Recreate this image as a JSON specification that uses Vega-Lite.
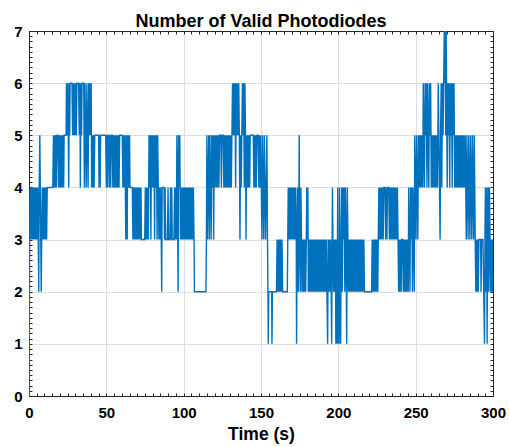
{
"$schema": "https://vega.github.io/schema/vega-lite/v6.json",
"width": 464, "height": 365,
"autosize": {"type": "none"},
"padding": {"left": 29, "top": 31, "right": 16, "bottom": 51},
"background": "white",
"config": {"view": {"stroke": null}},
"title": {"text": "Number of Valid Photodiodes", "font": "Liberation Sans", "fontSize": 18, "fontWeight": "bold", "color": "#000", "anchor": "middle", "frame": "group", "baseline": "alphabetic", "offset": -21},
"data": {"values": [
{"t":0,"n":0},{"t":0.4,"n":3},{"t":0.8,"n":4},{"t":1.2,"n":3},{"t":1.6,"n":4},{"t":2.0,"n":3},{"t":2.4,"n":4},{"t":2.8,"n":3},{"t":3.2,"n":4},{"t":3.6,"n":3},{"t":4.0,"n":4},{"t":4.4,"n":3},{"t":4.8,"n":4},{"t":5.2,"n":3},{"t":5.6,"n":4},{"t":6.0,"n":3},{"t":6.3,"n":2},{"t":6.6,"n":4},{"t":7.0,"n":5},{"t":7.3,"n":4},{"t":7.6,"n":3},{"t":7.9,"n":2},{"t":8.2,"n":3},{"t":8.6,"n":4},{"t":9.0,"n":3},{"t":9.4,"n":4},{"t":9.8,"n":3},{"t":10.2,"n":4},{"t":10.6,"n":3},{"t":11.0,"n":4},{"t":11.4,"n":3},{"t":11.8,"n":4},
{"t":15.4,"n":4},{"t":15.8,"n":5},{"t":16.2,"n":4},{"t":16.6,"n":5},{"t":17.0,"n":4},{"t":17.4,"n":5},{"t":17.8,"n":4},{"t":18.2,"n":5},{"t":18.8,"n":5},{"t":19.2,"n":4},{"t":19.6,"n":5},{"t":20.0,"n":4},{"t":20.4,"n":5},{"t":20.8,"n":4},{"t":21.2,"n":5},{"t":21.6,"n":4},{"t":22.0,"n":5},{"t":22.4,"n":4},{"t":22.7,"n":5},
{"t":24.0,"n":5},{"t":24.2,"n":6},{"t":24.6,"n":5},{"t":25.0,"n":6},{"t":25.4,"n":5},{"t":25.7,"n":4},{"t":26.0,"n":6},{"t":26.3,"n":5},{"t":26.6,"n":6},{"t":27.8,"n":6},{"t":28.2,"n":5},{"t":28.6,"n":6},{"t":29.0,"n":5},{"t":29.4,"n":6},{"t":29.8,"n":5},{"t":30.2,"n":6},{"t":30.6,"n":5},{"t":31.0,"n":6},{"t":32.1,"n":6},{"t":32.5,"n":5},{"t":32.9,"n":6},{"t":33.2,"n":4},{"t":33.6,"n":6},{"t":34.0,"n":5},{"t":34.3,"n":6},{"t":35.4,"n":6},{"t":35.8,"n":4},{"t":36.2,"n":6},{"t":36.6,"n":5},{"t":37.0,"n":4},{"t":37.4,"n":6},{"t":37.8,"n":5},{"t":38.2,"n":4},{"t":38.6,"n":6},{"t":39.0,"n":5},{"t":39.4,"n":6},{"t":39.8,"n":5},{"t":40.2,"n":6},{"t":40.5,"n":4},{"t":40.9,"n":5},{"t":41.3,"n":4},{"t":41.7,"n":5},{"t":42.1,"n":4},{"t":42.5,"n":5},
{"t":45.0,"n":5},{"t":45.3,"n":4},{"t":45.7,"n":5},{"t":46.0,"n":4},{"t":46.3,"n":5},{"t":49.6,"n":5},{"t":50.0,"n":4},{"t":50.4,"n":5},{"t":50.8,"n":4},{"t":51.1,"n":5},{"t":51.6,"n":5},{"t":52.0,"n":4},{"t":52.4,"n":5},{"t":52.8,"n":4},{"t":53.2,"n":5},{"t":53.8,"n":5},{"t":54.2,"n":4},{"t":54.6,"n":5},{"t":55.0,"n":4},{"t":55.4,"n":5},{"t":55.8,"n":4},{"t":56.2,"n":5},{"t":56.6,"n":4},{"t":57.0,"n":5},{"t":57.4,"n":4},{"t":57.8,"n":5},{"t":58.2,"n":4},{"t":58.6,"n":5},{"t":60.3,"n":5},{"t":60.7,"n":4},{"t":61.1,"n":5},{"t":61.5,"n":4},{"t":61.9,"n":5},{"t":62.3,"n":4},{"t":62.6,"n":3},{"t":62.9,"n":5},{"t":63.2,"n":4},{"t":63.5,"n":3},{"t":63.8,"n":5},{"t":64.1,"n":4},{"t":64.4,"n":5},{"t":64.7,"n":4},{"t":65.0,"n":5},{"t":65.3,"n":4},
{"t":66.8,"n":4},{"t":67.2,"n":3},{"t":67.6,"n":4},{"t":68.0,"n":3},{"t":68.4,"n":4},{"t":68.8,"n":3},{"t":69.2,"n":4},{"t":69.6,"n":3},{"t":70.0,"n":4},{"t":70.4,"n":3},{"t":70.8,"n":4},{"t":71.2,"n":3},{"t":71.6,"n":4},{"t":72.0,"n":3},{"t":72.4,"n":4},{"t":72.7,"n":3},
{"t":74.8,"n":3},{"t":75.2,"n":4},{"t":75.6,"n":3},{"t":76.0,"n":4},{"t":76.4,"n":3},{"t":76.8,"n":4},{"t":77.2,"n":3},{"t":77.6,"n":5},{"t":78.0,"n":4},{"t":78.4,"n":5},{"t":78.8,"n":3},{"t":79.2,"n":5},{"t":79.6,"n":4},{"t":80.0,"n":5},{"t":80.4,"n":4},{"t":80.8,"n":5},{"t":81.2,"n":3},{"t":81.6,"n":5},{"t":82.0,"n":4},{"t":82.4,"n":5},{"t":82.8,"n":3},{"t":83.2,"n":5},{"t":83.6,"n":4},{"t":84.0,"n":3},{"t":84.4,"n":4},{"t":84.8,"n":3},{"t":85.1,"n":4},{"t":85.5,"n":3},{"t":85.8,"n":2},{"t":86.1,"n":4},
{"t":87.3,"n":4},{"t":87.6,"n":3},{"t":88.0,"n":4},{"t":88.4,"n":3},{"t":89.5,"n":3},{"t":89.9,"n":4},{"t":90.2,"n":3},{"t":91.1,"n":3},{"t":91.5,"n":4},{"t":91.9,"n":3},{"t":92.3,"n":4},{"t":92.6,"n":3},
{"t":93.7,"n":3},{"t":94.1,"n":4},{"t":94.5,"n":3},{"t":94.9,"n":4},{"t":95.3,"n":3},{"t":95.6,"n":5},{"t":96.0,"n":4},{"t":96.4,"n":2},{"t":96.7,"n":5},{"t":97.1,"n":4},{"t":97.5,"n":5},{"t":97.9,"n":3},{"t":98.3,"n":4},{"t":98.7,"n":3},{"t":99.1,"n":4},{"t":99.5,"n":3},{"t":99.9,"n":4},{"t":100.3,"n":3},{"t":100.7,"n":4},{"t":101.1,"n":3},{"t":101.5,"n":4},{"t":101.9,"n":3},{"t":102.3,"n":4},{"t":102.7,"n":3},{"t":103.1,"n":4},{"t":103.5,"n":3},{"t":103.9,"n":4},{"t":104.3,"n":3},{"t":104.7,"n":4},{"t":105.1,"n":3},{"t":105.5,"n":4},{"t":105.9,"n":3},{"t":106.3,"n":4},{"t":106.7,"n":3},{"t":107.0,"n":2},
{"t":114.4,"n":2},{"t":114.7,"n":3},{"t":115.0,"n":5},{"t":115.4,"n":3},{"t":115.8,"n":4},{"t":116.2,"n":5},{"t":116.6,"n":3},{"t":117.0,"n":5},{"t":117.4,"n":4},{"t":117.8,"n":3},{"t":118.2,"n":5},{"t":118.6,"n":4},{"t":119.0,"n":5},{"t":119.4,"n":3},{"t":119.8,"n":5},{"t":120.2,"n":4},{"t":120.6,"n":5},{"t":121.0,"n":4},{"t":121.4,"n":5},{"t":121.8,"n":4},{"t":122.2,"n":5},{"t":122.8,"n":4},{"t":123.2,"n":5},{"t":124.0,"n":5},{"t":124.4,"n":4},{"t":124.8,"n":5},{"t":125.6,"n":5},{"t":126.0,"n":4},{"t":126.4,"n":5},{"t":126.8,"n":4},{"t":127.2,"n":5},{"t":127.6,"n":4},{"t":128.0,"n":5},
{"t":128.4,"n":4},{"t":128.8,"n":5},{"t":129.2,"n":4},{"t":129.6,"n":5},{"t":130.0,"n":4},{"t":130.4,"n":5},{"t":130.8,"n":4},{"t":131.2,"n":5},{"t":131.6,"n":6},{"t":132.0,"n":5},{"t":132.4,"n":6},{"t":132.8,"n":5},{"t":133.2,"n":6},{"t":133.6,"n":4},{"t":134.0,"n":6},{"t":134.4,"n":5},{"t":134.8,"n":6},{"t":135.2,"n":5},{"t":135.6,"n":6},{"t":136.0,"n":5},{"t":136.4,"n":3},{"t":136.8,"n":5},{"t":137.2,"n":4},{"t":137.6,"n":5},{"t":138.0,"n":6},{"t":138.4,"n":5},{"t":138.8,"n":6},{"t":139.2,"n":4},{"t":139.6,"n":6},{"t":140.0,"n":5},{"t":140.3,"n":3},{"t":140.7,"n":5},{"t":141.1,"n":4},{"t":141.5,"n":5},{"t":141.9,"n":4},{"t":142.3,"n":5},{"t":142.7,"n":4},{"t":143.0,"n":5},{"t":145.0,"n":5},{"t":145.4,"n":4},{"t":145.8,"n":5},{"t":146.2,"n":4},{"t":146.6,"n":5},{"t":147.0,"n":4},{"t":147.4,"n":5},{"t":148.2,"n":5},{"t":148.6,"n":4},{"t":149.0,"n":5},{"t":149.4,"n":4},{"t":149.8,"n":5},{"t":150.2,"n":4},{"t":150.6,"n":3},{"t":151.0,"n":5},{"t":151.4,"n":4},{"t":151.8,"n":3},{"t":152.2,"n":5},{"t":152.6,"n":4},{"t":153.0,"n":3},{"t":153.4,"n":4},{"t":153.8,"n":5},{"t":154.2,"n":3},{"t":154.5,"n":2},
{"t":154.7,"n":1},{"t":155.0,"n":2},{"t":156.9,"n":2},{"t":157.1,"n":1},{"t":157.4,"n":2},{"t":160.0,"n":2},
{"t":160.4,"n":3},{"t":160.8,"n":2},{"t":161.2,"n":3},{"t":161.6,"n":2},{"t":162.0,"n":3},{"t":162.4,"n":2},{"t":162.8,"n":3},{"t":163.2,"n":2},{"t":163.6,"n":3},{"t":164.0,"n":2},{"t":167.0,"n":2},{"t":167.3,"n":3},{"t":167.6,"n":4},{"t":168.0,"n":3},{"t":168.4,"n":4},{"t":168.8,"n":3},{"t":169.2,"n":4},{"t":169.6,"n":3},{"t":170.0,"n":4},{"t":170.4,"n":3},{"t":170.8,"n":4},{"t":171.2,"n":3},{"t":171.6,"n":4},{"t":172.0,"n":3},{"t":172.4,"n":4},{"t":172.8,"n":3},{"t":173.0,"n":1},{"t":173.3,"n":3},{"t":173.7,"n":4},{"t":174.1,"n":2},{"t":174.4,"n":3},{"t":174.7,"n":5},{"t":175.0,"n":3},{"t":175.4,"n":2},{"t":175.8,"n":4},{"t":176.2,"n":3},{"t":176.5,"n":2},{"t":176.9,"n":3},{"t":177.3,"n":2},{"t":177.7,"n":3},{"t":178.1,"n":2},{"t":178.5,"n":3},{"t":178.9,"n":2},{"t":179.3,"n":3},{"t":179.6,"n":4},{"t":180.0,"n":3},{"t":180.3,"n":4},{"t":180.6,"n":2},{"t":181.0,"n":3},{"t":181.4,"n":2},{"t":181.8,"n":3},{"t":182.2,"n":2},{"t":182.6,"n":3},{"t":183.0,"n":2},{"t":183.4,"n":3},{"t":183.8,"n":2},{"t":184.2,"n":3},{"t":184.6,"n":2},{"t":185.0,"n":3},{"t":185.4,"n":2},{"t":185.8,"n":3},{"t":186.2,"n":2},{"t":186.6,"n":3},{"t":187.0,"n":2},{"t":187.4,"n":3},{"t":187.8,"n":2},{"t":188.2,"n":3},{"t":188.6,"n":2},{"t":189.0,"n":3},{"t":189.4,"n":2},{"t":189.8,"n":3},{"t":190.2,"n":2},{"t":190.6,"n":3},{"t":191.0,"n":2},{"t":191.4,"n":3},{"t":191.8,"n":2},{"t":192.2,"n":3},{"t":192.6,"n":2},{"t":193.1,"n":1},{"t":193.4,"n":3},{"t":193.8,"n":2},{"t":194.2,"n":3},{"t":194.6,"n":2},{"t":195.0,"n":3},{"t":195.4,"n":2},{"t":195.7,"n":1},{"t":196.0,"n":3},{"t":196.2,"n":4},{"t":196.5,"n":3},{"t":196.9,"n":2},{"t":197.3,"n":3},{"t":197.7,"n":2},{"t":198.1,"n":3},{"t":198.4,"n":1},{"t":198.7,"n":3},{"t":199.0,"n":1},{"t":199.3,"n":2},{"t":199.6,"n":4},{"t":199.9,"n":1},{"t":200.2,"n":3},{"t":200.5,"n":1},{"t":200.8,"n":4},{"t":201.1,"n":2},{"t":201.5,"n":1},{"t":201.8,"n":3},{"t":202.2,"n":4},{"t":202.6,"n":2},{"t":203.0,"n":4},{"t":203.4,"n":3},{"t":203.8,"n":4},{"t":204.2,"n":2},{"t":204.6,"n":4},{"t":205.0,"n":3},{"t":205.4,"n":1},{"t":205.8,"n":4},{"t":206.2,"n":3},{"t":206.5,"n":2},{"t":206.9,"n":3},{"t":207.3,"n":2},{"t":207.7,"n":3},{"t":208.1,"n":2},{"t":208.5,"n":3},{"t":208.9,"n":2},{"t":209.3,"n":3},{"t":209.7,"n":2},{"t":210.1,"n":3},{"t":210.5,"n":2},{"t":210.9,"n":3},{"t":211.3,"n":2},{"t":211.7,"n":3},{"t":212.1,"n":2},{"t":212.5,"n":3},{"t":212.9,"n":2},{"t":213.3,"n":3},{"t":213.7,"n":2},{"t":214.1,"n":3},{"t":214.5,"n":2},{"t":214.9,"n":3},{"t":215.3,"n":2},{"t":215.7,"n":3},{"t":216.1,"n":2},{"t":216.5,"n":3},{"t":216.9,"n":2},
{"t":221.5,"n":2},{"t":221.9,"n":3},{"t":222.3,"n":2},{"t":222.7,"n":3},{"t":223.1,"n":2},{"t":223.5,"n":3},{"t":223.9,"n":2},{"t":224.3,"n":3},{"t":224.7,"n":2},{"t":225.1,"n":3},{"t":225.5,"n":2},{"t":225.8,"n":3},
{"t":226.2,"n":4},{"t":226.6,"n":3},{"t":227.0,"n":4},{"t":227.4,"n":3},{"t":227.8,"n":4},{"t":228.2,"n":3},{"t":228.6,"n":4},{"t":229.0,"n":3},{"t":229.4,"n":4},{"t":230.2,"n":4},{"t":230.6,"n":3},{"t":231.0,"n":4},{"t":231.4,"n":3},{"t":231.8,"n":4},{"t":232.6,"n":4},{"t":233.0,"n":3},{"t":233.4,"n":4},{"t":233.8,"n":3},{"t":234.2,"n":4},{"t":234.6,"n":3},{"t":235.0,"n":4},{"t":235.4,"n":3},{"t":235.8,"n":4},{"t":236.2,"n":3},{"t":236.6,"n":4},{"t":237.0,"n":3},{"t":237.4,"n":4},{"t":237.8,"n":3},{"t":238.2,"n":4},{"t":238.6,"n":3},
{"t":239.0,"n":2},{"t":239.4,"n":3},{"t":239.8,"n":2},{"t":240.2,"n":3},{"t":240.6,"n":2},{"t":241.0,"n":3},{"t":241.6,"n":3},{"t":242.0,"n":2},{"t":242.4,"n":3},{"t":242.8,"n":2},{"t":243.2,"n":3},{"t":243.6,"n":2},{"t":244.0,"n":3},{"t":244.4,"n":2},{"t":244.8,"n":3},{"t":245.2,"n":2},{"t":245.5,"n":4},{"t":245.9,"n":3},{"t":246.3,"n":2},{"t":246.7,"n":4},{"t":247.1,"n":3},{"t":247.5,"n":4},{"t":247.9,"n":2},{"t":248.3,"n":4},{"t":248.7,"n":3},{"t":249.1,"n":2},{"t":249.4,"n":5},{"t":249.8,"n":4},{"t":250.2,"n":3},{"t":250.6,"n":5},{"t":251.0,"n":4},{"t":251.4,"n":3},{"t":251.8,"n":5},{"t":252.2,"n":4},{"t":252.6,"n":5},{"t":253.0,"n":4},{"t":253.4,"n":5},{"t":253.8,"n":4},{"t":254.2,"n":5},{"t":254.6,"n":4},
{"t":254.9,"n":6},{"t":255.3,"n":5},{"t":255.7,"n":4},{"t":256.1,"n":6},{"t":256.5,"n":5},{"t":256.9,"n":6},{"t":257.3,"n":4},{"t":257.7,"n":6},{"t":258.1,"n":5},{"t":258.5,"n":4},{"t":258.9,"n":6},{"t":259.3,"n":5},{"t":259.7,"n":6},{"t":260.1,"n":4},{"t":260.5,"n":5},{"t":260.9,"n":4},{"t":261.3,"n":5},{"t":261.7,"n":4},{"t":262.1,"n":5},{"t":262.5,"n":4},{"t":262.9,"n":5},{"t":263.3,"n":4},{"t":263.7,"n":5},{"t":264.1,"n":4},
{"t":264.6,"n":6},{"t":265.0,"n":5},{"t":265.4,"n":4},{"t":265.8,"n":3},{"t":266.1,"n":5},{"t":266.5,"n":6},{"t":266.9,"n":4},{"t":267.3,"n":6},{"t":267.7,"n":5},{"t":268.1,"n":6},{"t":268.5,"n":7},{"t":268.8,"n":6},{"t":269.1,"n":7},{"t":269.4,"n":5},{"t":269.7,"n":7},{"t":270.0,"n":6},{"t":270.4,"n":4},{"t":270.8,"n":6},{"t":271.2,"n":5},{"t":271.6,"n":6},{"t":272.0,"n":4},{"t":272.4,"n":6},{"t":272.8,"n":5},{"t":273.2,"n":6},{"t":273.6,"n":4},{"t":274.0,"n":6},{"t":274.4,"n":5},{"t":274.8,"n":6},{"t":275.2,"n":4},
{"t":275.6,"n":5},{"t":276.0,"n":4},{"t":276.4,"n":5},{"t":276.8,"n":4},{"t":277.2,"n":5},{"t":277.6,"n":4},{"t":278.0,"n":5},{"t":278.4,"n":4},{"t":278.8,"n":5},{"t":279.2,"n":4},{"t":279.6,"n":5},{"t":280.0,"n":4},{"t":280.4,"n":5},{"t":280.8,"n":4},{"t":281.2,"n":5},{"t":281.6,"n":4},{"t":282.0,"n":5},{"t":282.4,"n":4},{"t":282.7,"n":3},{"t":283.1,"n":5},{"t":283.5,"n":4},{"t":283.9,"n":3},{"t":284.3,"n":5},{"t":284.7,"n":4},{"t":285.1,"n":3},{"t":285.5,"n":5},{"t":285.9,"n":4},{"t":286.3,"n":3},{"t":286.7,"n":5},{"t":287.1,"n":4},{"t":287.5,"n":3},{"t":287.9,"n":5},{"t":288.2,"n":4},{"t":288.5,"n":3},
{"t":288.9,"n":2},{"t":289.3,"n":3},{"t":289.7,"n":2},{"t":290.1,"n":3},{"t":290.5,"n":2},{"t":290.9,"n":3},{"t":292.0,"n":3},{"t":292.3,"n":2},{"t":292.6,"n":3},{"t":293.5,"n":3},{"t":294.0,"n":2},{"t":294.5,"n":1},{"t":294.8,"n":3},{"t":295.1,"n":4},{"t":295.5,"n":2},{"t":295.9,"n":4},{"t":296.2,"n":1},{"t":296.5,"n":3},{"t":296.9,"n":4},{"t":297.3,"n":2},{"t":297.7,"n":4},{"t":298.1,"n":3},{"t":298.5,"n":2},{"t":298.9,"n":3},{"t":299.3,"n":2},{"t":299.7,"n":3},{"t":300.0,"n":2}
]},
"layer": [
{"mark": {"type": "line", "color": "#0072BD", "strokeWidth": 1.4, "clip": true},
 "encoding": {
  "x": {"field": "t", "type": "quantitative", "scale": {"domain": [0, 300], "nice": false, "zero": false},
   "axis": {"orient": "bottom", "values": [0,5,10,15,20,25,30,35,40,45,50,55,60,65,70,75,80,85,90,95,100,105,110,115,120,125,130,135,140,145,150,155,160,165,170,175,180,185,190,195,200,205,210,215,220,225,230,235,240,245,250,255,260,265,270,275,280,285,290,295,300],
    "labelExpr": "datum.value % 50 === 0 ? format(datum.value, 'd') : ''", "labelFlush": false, "labelOverlap": false, "labelBound": false,
    "labelFont": "Liberation Sans", "labelFontSize": 15, "labelFontWeight": "bold", "labelColor": "#000", "labelPadding": 12,
    "tickSize": -3, "tickColor": "#262626", "domainColor": "#262626", "domainWidth": 1,
    "grid": true, "gridColor": "#dfdfdf", "gridOpacity": {"condition": {"test": "datum.value % 50 === 0", "value": 1}, "value": 0},
    "title": "Time (s)", "titleFont": "Liberation Sans", "titleFontSize": 17.5, "titleFontWeight": "bold", "titleColor": "#000", "titlePadding": 5}},
  "y": {"field": "n", "type": "quantitative", "scale": {"domain": [0, 7], "nice": false},
   "axis": {"orient": "left", "values": [0,0.1,0.2,0.3,0.4,0.5,0.6,0.7,0.8,0.9,1,1.1,1.2,1.3,1.4,1.5,1.6,1.7,1.8,1.9,2,2.1,2.2,2.3,2.4,2.5,2.6,2.7,2.8,2.9,3,3.1,3.2,3.3,3.4,3.5,3.6,3.7,3.8,3.9,4,4.1,4.2,4.3,4.4,4.5,4.6,4.7,4.8,4.9,5,5.1,5.2,5.3,5.4,5.5,5.6,5.7,5.8,5.9,6,6.1,6.2,6.3,6.4,6.5,6.6,6.7,6.8,6.9,7],
    "labelExpr": "abs(datum.value - round(datum.value)) < 0.001 ? format(datum.value, 'd') : ''", "labelFlush": false, "labelOverlap": false, "labelBound": false,
    "labelFont": "Liberation Sans", "labelFontSize": 15, "labelFontWeight": "bold", "labelColor": "#000", "labelPadding": 10,
    "tickSize": -3, "tickColor": "#262626", "domainColor": "#262626", "domainWidth": 1,
    "grid": true, "gridColor": "#dfdfdf", "gridOpacity": {"condition": {"test": "abs(datum.value - round(datum.value)) < 0.001", "value": 1}, "value": 0},
    "title": null}}
 }},
{"mark": {"type": "line", "strokeOpacity": 0},
 "encoding": {
  "x": {"field": "t", "type": "quantitative", "scale": {"domain": [0, 300], "nice": false, "zero": false},
   "axis": {"orient": "top", "values": [0,5,10,15,20,25,30,35,40,45,50,55,60,65,70,75,80,85,90,95,100,105,110,115,120,125,130,135,140,145,150,155,160,165,170,175,180,185,190,195,200,205,210,215,220,225,230,235,240,245,250,255,260,265,270,275,280,285,290,295,300],
    "labels": false, "grid": false, "tickSize": -3, "tickColor": "#262626", "domainColor": "#262626", "domainWidth": 1, "title": null}},
  "y": {"field": "n", "type": "quantitative", "scale": {"domain": [0, 7], "nice": false},
   "axis": {"orient": "right", "values": [0,0.1,0.2,0.3,0.4,0.5,0.6,0.7,0.8,0.9,1,1.1,1.2,1.3,1.4,1.5,1.6,1.7,1.8,1.9,2,2.1,2.2,2.3,2.4,2.5,2.6,2.7,2.8,2.9,3,3.1,3.2,3.3,3.4,3.5,3.6,3.7,3.8,3.9,4,4.1,4.2,4.3,4.4,4.5,4.6,4.7,4.8,4.9,5,5.1,5.2,5.3,5.4,5.5,5.6,5.7,5.8,5.9,6,6.1,6.2,6.3,6.4,6.5,6.6,6.7,6.8,6.9,7],
    "labels": false, "grid": false, "tickSize": -3, "tickColor": "#262626", "domainColor": "#262626", "domainWidth": 1, "title": null}}
 }}
],
"resolve": {"axis": {"x": "independent", "y": "independent"}}
}
